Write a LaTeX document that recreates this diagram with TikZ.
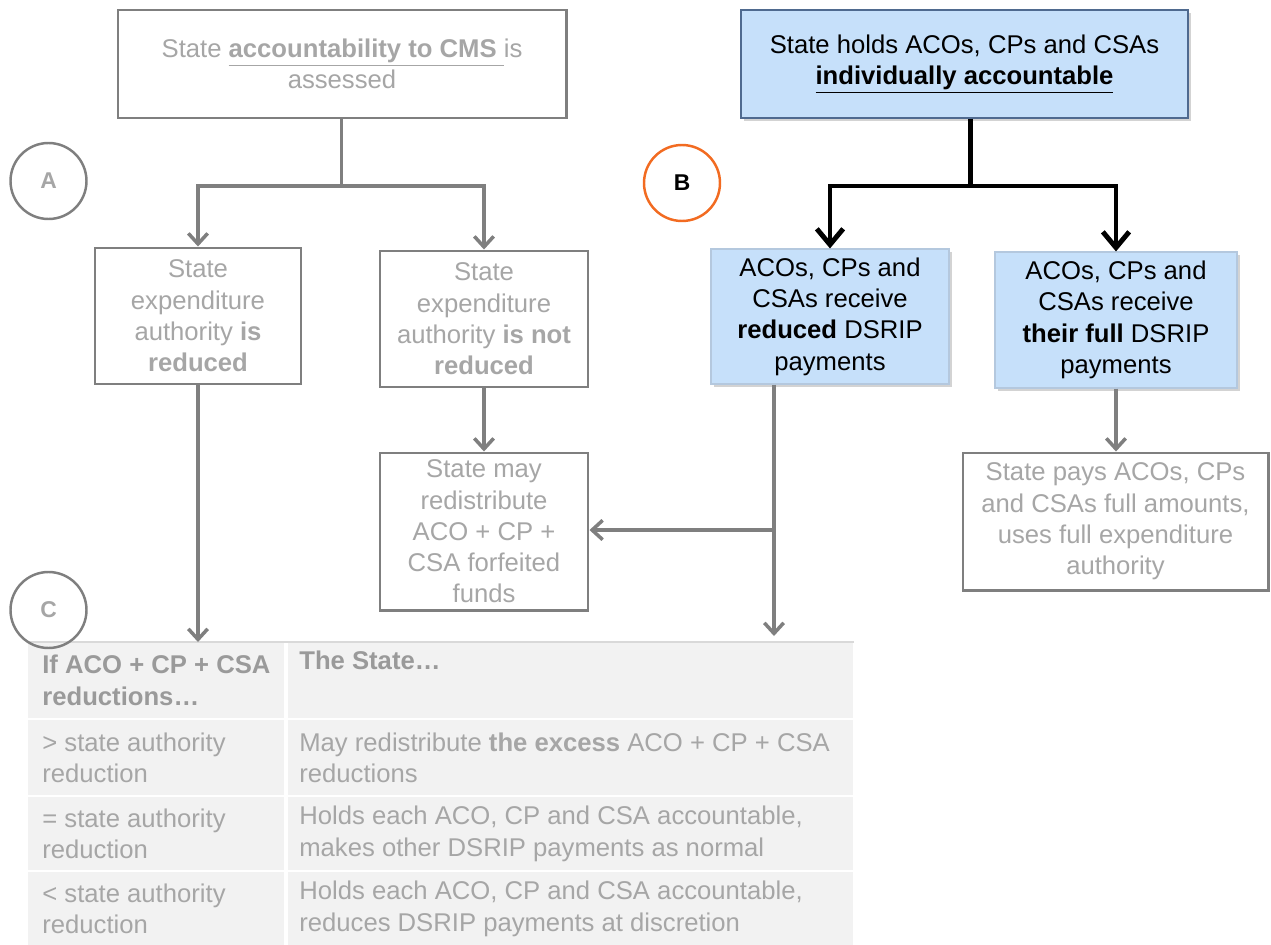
\documentclass[tikz,border=0pt]{standalone}
\usepackage{fontspec}
\setmainfont{Liberation Sans}
\usetikzlibrary{arrows.meta}
\usetikzlibrary{shadows}

\definecolor{linegray}{HTML}{7F7F7F}
\definecolor{textgray}{HTML}{A6A6A6}
\definecolor{headgray}{HTML}{9A9A9A}
\definecolor{boxblue}{HTML}{C6E0FA}
\definecolor{blueedge}{HTML}{4F6A8F}
\definecolor{paleedge}{HTML}{B4C8DE}
\definecolor{ringorange}{HTML}{F26B21}
\definecolor{tabgray}{HTML}{F2F2F2}
\definecolor{tabedge}{HTML}{D9D9D9}

\begin{document}
\begin{tikzpicture}[x=0.2mm,y=-0.2mm,
    font=\fontsize{14.6}{17.8}\selectfont,
    greybox/.style={draw=linegray, line width=1.7pt, fill=white, text=textgray, align=center, inner sep=0pt},
    bluebox/.style={draw=paleedge, line width=0.6pt, fill=boxblue, align=center, inner sep=0pt,
      drop shadow={shadow xshift=0.05cm, shadow yshift=-0.05cm, opacity=0.35}},
    ring/.style={circle, draw=linegray, line width=1.4pt, minimum size=1.52cm, inner sep=0pt,
      text=textgray, font=\fontsize{13}{15}\selectfont\bfseries},
    greylink/.style={draw=linegray, line width=2pt},
    greyarrow/.style={greylink, -{Straight Barb[length=6pt,width=11pt]}},
    blacklink/.style={draw=black, line width=2.8pt},
    blackarrow/.style={blacklink, -{Straight Barb[length=9pt,width=15pt]}},
    cell/.style={fill=tabgray, anchor=north west, inner sep=0pt},
    celltext/.style={anchor=west, align=left, inner sep=0pt, text=textgray}]

      \useasboundingbox (0,0) rectangle (1271,945);

      % table C
      \node[cell, minimum width=5.12cm, minimum height=1.52cm] (headL) at (28,642) {};
      \node[cell, minimum width=11.3cm, minimum height=1.52cm] (headR) at (288,642) {};
      \foreach \r/\yt/\h in {1/720/1.5, 2/797/1.46, 3/872/1.46} {
        \node[cell, minimum width=5.12cm, minimum height=\h cm] (rowL\r) at (28,\yt) {};
        \node[cell, minimum width=11.3cm, minimum height=\h cm] (rowR\r) at (288,\yt) {};
      }
      \draw[tabedge, line width=0.8pt] (headL.north west) -- (headR.north east);

      \node[celltext, text=headgray] (headLt) at ([xshift=0.28cm]headL.west) {\textbf{If ACO + CP + CSA}\\\textbf{reductions…}};
      \node[celltext, text=headgray] (headRt) at ([xshift=0.22cm]headR.west) {\textbf{The State…}\\\strut};
      \node[celltext] (rowL1t) at ([xshift=0.28cm]rowL1.west) {> state authority\\reduction};
      \node[celltext] (rowR1t) at ([xshift=0.22cm]rowR1.west) {May redistribute \textbf{the excess} ACO + CP + CSA\\reductions};
      \node[celltext] (rowL2t) at ([xshift=0.28cm]rowL2.west) {= state authority\\reduction};
      \node[celltext] (rowR2t) at ([xshift=0.22cm]rowR2.west) {Holds each ACO, CP and CSA accountable,\\makes other DSRIP payments as normal};
      \node[celltext] (rowL3t) at ([xshift=0.28cm]rowL3.west) {< state authority\\reduction};
      \node[celltext] (rowR3t) at ([xshift=0.22cm]rowR3.west) {Holds each ACO, CP and CSA accountable,\\reduces DSRIP payments at discretion};

      % boxes
      \node[greybox, minimum width=8.96cm, minimum height=2.16cm] (assess) at (342,64)
        {State \underline{\textbf{accountability to CMS }}is\\assessed};
      \node[bluebox, draw=blueedge, line width=0.8pt, minimum width=8.94cm, minimum height=2.16cm] (holds) at (964.5,64)
        {State holds ACOs, CPs and CSAs\\\underline{\textbf{individually accountable}}};
      \node[greybox, minimum width=4.12cm, minimum height=2.72cm] (isred) at (198,316)
        {State\\expenditure\\authority \textbf{is}\\\textbf{reduced}};
      \node[greybox, minimum width=4.16cm, minimum height=2.72cm] (notred) at (484,319)
        {State\\expenditure\\authority \textbf{is not}\\\textbf{reduced}};
      \node[greybox, minimum width=4.16cm, minimum height=3.14cm] (redist) at (484,531.5)
        {State may\\redistribute\\ACO + CP +\\CSA forfeited\\funds};
      \node[bluebox, minimum width=4.76cm, minimum height=2.7cm] (getred) at (830,316.5)
        {ACOs, CPs and\\CSAs receive\\\textbf{reduced} DSRIP\\payments};
      \node[bluebox, minimum width=4.84cm, minimum height=2.72cm] (getfull) at (1116,320)
        {ACOs, CPs and\\CSAs receive\\\textbf{their full} DSRIP\\payments};
      \node[greybox, minimum width=6.1cm, minimum height=2.74cm] (fullpay) at (1115.5,521.5)
        {State pays ACOs, CPs\\and CSAs full amounts,\\uses full expenditure\\authority};

      % circles
      \node[ring, fill=white] (ringA) at (48.5,181) {A};
      \node[ring, fill=white, draw=ringorange, text=black] (ringB) at (682,183) {B};
      \node[ring] (ringC) at (48.5,610) {C};

      % connectors
      \coordinate (forkA) at (341.5,186);
      \draw[greylink] (assess.south -| forkA) -- (forkA);
      \draw[greyarrow] (forkA) -| (isred.north);
      \draw[greyarrow] (forkA) -| (notred.north);
      \draw[greyarrow] (notred.south) -- (redist.north);
      \draw[greyarrow] (isred.south) -- (isred.south |- headL.north);

      \coordinate (forkB) at (970.5,186);
      \draw[blacklink] (holds.south -| forkB) -- (forkB);
      \draw[blackarrow] (forkB) -| (getred.north);
      \draw[blackarrow] (forkB) -| (getfull.north);

      \coordinate (joinR) at (774,530);
      \draw[greylink] (getred.south -| joinR) -- (joinR);
      \draw[greyarrow] (joinR) -- (joinR -| redist.east);
      \draw[greyarrow] (joinR) -- ([yshift=0.12cm]joinR |- headR.north);
      \draw[greyarrow] (getfull.south) -- (getfull.south |- fullpay.north);
    \end{tikzpicture}
\end{document}
